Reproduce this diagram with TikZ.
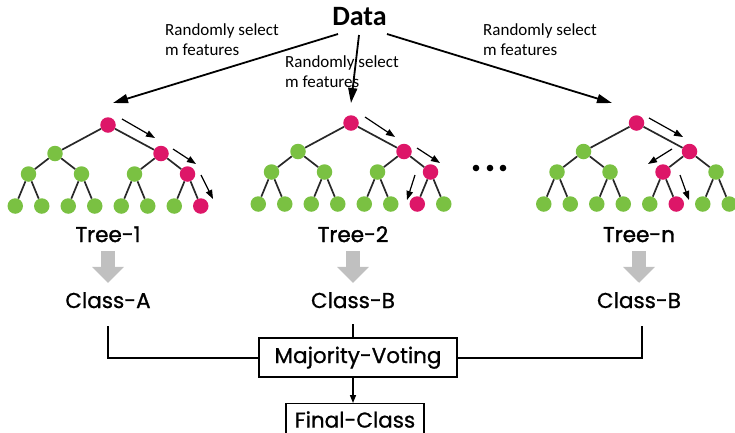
\documentclass[tikz,border=0pt]{standalone}
\usepackage{fontspec}
\setmainfont{Poppins}[FakeBold=0.9]
\newfontfamily\heavyfont{Poppins}[FakeBold=1.6]
\newfontfamily\calfont{Carlito}
\usetikzlibrary{arrows.meta,calc}
\definecolor{leafgreen}{RGB}{122,193,66}
\definecolor{pathpink}{RGB}{221,22,104}
\definecolor{edgegray}{RGB}{40,40,40}
\definecolor{flowgray}{RGB}{192,192,192}

% one decision tree: #1 name prefix, #2 root x, #3 root y,
% #4 highlighted second-level node, #5 highlighted third-level node, #6 highlighted leaf
\newcommand\rftree[6]{%
  \begin{scope}[shift={(#2,#3)}]
    \node[vtx,fill=pathpink] (#1r) at (0,0) {};
    \foreach \i/\dx in {1/-53,2/53}{%
      \ifnum\i=#4 \def\vcol{pathpink}\else\def\vcol{leafgreen}\fi
      \node[vtx,fill=\vcol] (#1b\i) at (\dx,28.5) {};}
    \foreach \i/\dx in {1/-79.5,2/-26.5,3/26.5,4/79.5}{%
      \ifnum\i=#5 \def\vcol{pathpink}\else\def\vcol{leafgreen}\fi
      \node[vtx,fill=\vcol] (#1c\i) at (\dx,49) {};}
    \foreach \i in {1,...,8}{%
      \ifnum\i=#6 \def\vcol{pathpink}\else\def\vcol{leafgreen}\fi
      \node[vtx,fill=\vcol] (#1d\i) at ({-92.75+26.5*(\i-1)},81) {};}
  \end{scope}
  \draw[tedge] (#1r) -- (#1b1);
  \draw[tedge] (#1r) -- (#1b2);
  \draw[tedge] (#1b1) -- (#1c1);
  \draw[tedge] (#1b1) -- (#1c2);
  \draw[tedge] (#1b2) -- (#1c3);
  \draw[tedge] (#1b2) -- (#1c4);
  \foreach \k/\l/\m in {1/1/2,2/3/4,3/5/6,4/7/8}{%
    \draw[tedge] (#1c\k) -- (#1d\l);
    \draw[tedge] (#1c\k) -- (#1d\m);}
}

\begin{document}
\begin{tikzpicture}[x=1pt,y=-1pt,
  vtx/.style={circle,inner sep=0pt,minimum size=15.5pt},
  tedge/.style={draw=edgegray,line width=1.7pt},
  walk/.style={draw=black,line width=1.2pt,-{Triangle[length=9pt,width=6.5pt]}},
  feed/.style={draw=black,line width=1.8pt,-{Triangle[length=15pt,width=9pt]}},
  pick/.style={font=\calfont\fontsize{17}{20.5}\selectfont,align=left,anchor=base west,inner sep=0pt},
  lbl/.style={font=\fontsize{21.5}{25}\selectfont,anchor=base,inner sep=0pt,text height=15pt,text depth=0pt},
  treelbl/.style={lbl,font=\heavyfont\fontsize{21.5}{25}\selectfont},
  flow/.style={draw=flowgray,line width=14pt,-{Triangle[length=16pt,width=31pt]},shorten <=9pt,shorten >=10pt},
  wire/.style={draw=black,line width=2pt},
  boxed/.style={draw=black,line width=1.2pt,font=\fontsize{21.5}{25}\selectfont,inner xsep=0pt,text height=15pt}
]
\useasboundingbox (0,0) rectangle (735,432);
\clip (0,0) rectangle (735,432);

% source and the three feature-sampling arrows
\node[font=\calfont\bfseries\fontsize{28}{32}\selectfont,anchor=base,inner sep=0pt] (data) at (359.5,25) {Data};
\coordinate (s1) at (338,34);  \coordinate (e1) at (113,103);
\coordinate (s2) at (359,35);  \coordinate (e2) at (351,103);
\coordinate (s3) at (387,34);  \coordinate (e3) at (612,103);
\draw[feed] (s1) -- (e1);
\draw[feed] (s2) -- (e2);
\draw[feed] (s3) -- (e3);
\node[pick] (p1) at (165,55.5) {Randomly select\\m features};
\node[pick] (p2) at (285,87.5) {Randomly select\\m features};
\node[pick] (p3) at (483,55.5) {Randomly select\\m features};

% the trees
\rftree{ta}{108}{125}{2}{4}{8}
\rftree{tb}{351}{123}{2}{4}{7}
\rftree{tc}{636.5}{123}{2}{3}{6}

% decision paths
\coordinate (a1) at (122,119); \coordinate (a2) at (155,138);
\coordinate (a3) at (173,149); \coordinate (a4) at (196,164);
\coordinate (a5) at (201,175); \coordinate (a6) at (213,199);
\draw[walk] (a1) -- (a2); \draw[walk] (a3) -- (a4); \draw[walk] (a5) -- (a6);
\coordinate (b1) at (365,117); \coordinate (b2) at (395,137);
\coordinate (b3) at (417,148); \coordinate (b4) at (440,163);
\coordinate (b5) at (415,175); \coordinate (b6) at (407,200);
\draw[walk] (b1) -- (b2); \draw[walk] (b3) -- (b4); \draw[walk] (b5) -- (b6);
\coordinate (c1) at (649,118); \coordinate (c2) at (683,137);
\coordinate (c3) at (672,149); \coordinate (c4) at (648,164);
\coordinate (c5) at (680,175); \coordinate (c6) at (689,200);
\draw[walk] (c1) -- (c2); \draw[walk] (c3) -- (c4); \draw[walk] (c5) -- (c6);

% ellipsis between the trees
\foreach \x in {476,490,503} \fill[black] (\x,168) circle (3.3);

% tree outputs
\node[treelbl] (t1) at (108,242) {Tree-1};
\node[treelbl] (t2) at (353,242) {Tree-2};
\node[treelbl] (tn) at (639,242) {Tree-n};
\node[lbl] (k1) at (108,308) {Class-A};
\node[lbl] (k2) at (353,308) {Class-B};
\node[lbl] (kn) at (639,308) {Class-B};
\draw[flow] (t1) -- (k1);
\draw[flow] (t2) -- (k2);
\draw[flow] (tn) -- (kn);

% voting
\node[boxed,minimum width=198pt,text depth=4pt,inner ysep=10pt] (mv) at (358,357.5) {Majority-Voting};
\node[boxed,anchor=north,minimum width=138pt,text depth=0pt,inner ysep=9pt] (fc) at (355,403) {Final-Class};
\draw[wire] ([yshift=-18pt]k1.south) |- (mv.west);
\draw[wire] ([xshift=3pt,yshift=-18pt]kn.south) |- (mv.east);
\draw[wire] ([yshift=-16pt]k2.south) -- (k2.south |- mv.north);
\draw[draw=black,line width=1.5pt,-{Triangle[length=8pt,width=6pt]}] (k2.south |- mv.south) -- (k2.south |- fc.north);
\end{tikzpicture}
\end{document}
